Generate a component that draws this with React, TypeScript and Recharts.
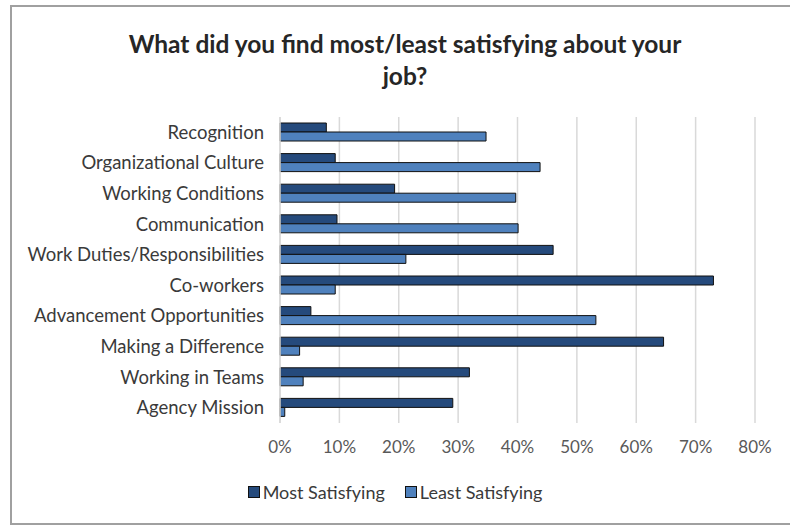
import { BarChart, Bar, XAxis, YAxis, CartesianGrid, Legend } from 'recharts'

const categories = [
  'Recognition',
  'Organizational Culture',
  'Working Conditions',
  'Communication',
  'Work Duties/Responsibilities',
  'Co-workers',
  'Advancement Opportunities',
  'Making a Difference',
  'Working in Teams',
  'Agency Mission',
]
const mostSatisfying = [0.078, 0.093, 0.193, 0.096, 0.46, 0.73, 0.052, 0.646, 0.319, 0.291]
const leastSatisfying = [0.347, 0.438, 0.397, 0.401, 0.212, 0.093, 0.532, 0.033, 0.039, 0.008]
const xTicks = [0, 0.1, 0.2, 0.3, 0.4, 0.5, 0.6, 0.7, 0.8]

const data = categories.map((name, i) => ({
  name,
  most: mostSatisfying[i],
  least: leastSatisfying[i],
}))

const font = 'Lato, sans-serif'
const textColor = '#3a3a3a'

const legendItems = [
  { label: 'Most Satisfying', color: '#254a7c' },
  { label: 'Least Satisfying', color: '#4f81bd' },
]

const CustomLegend = () => (
  <div style={{ display: 'flex', justifyContent: 'center', gap: 20, fontFamily: font, fontSize: 18, color: textColor }}>
    {legendItems.map(item => (
      <span key={item.label} style={{ display: 'flex', alignItems: 'center', gap: 3 }}>
        <span style={{ display: 'inline-block', width: 10, height: 10, background: item.color, border: '1px solid #111' }} />
        {item.label}
      </span>
    ))}
  </div>
)

export default function App() {
  return (
    <div style={{ position: 'absolute', left: 0, top: 0, width: 790, height: 527, background: '#fff', overflow: 'hidden' }}>
      <div
        style={{
          position: 'absolute',
          left: 10,
          top: 5,
          width: 790,
          height: 520,
          border: '2px solid #a0a0a0',
          boxSizing: 'border-box',
        }}
      />
      <div
        style={{
          position: 'absolute',
          left: 0,
          top: 28,
          width: 810,
          textAlign: 'center',
          fontFamily: font,
          fontWeight: 700,
          fontSize: 24.5,
          lineHeight: '32px',
          color: '#262626',
        }}
      >
        What did you find most/least satisfying about your
        <br />
        job?
      </div>
      <div style={{ position: 'absolute', left: 0, top: 0 }}>
        <BarChart
          width={790}
          height={527}
          data={data}
          layout="vertical"
          margin={{ top: 117, right: 35, left: 0, bottom: 52 }}
          barGap={0}
          barCategoryGap={6}
        >
          <CartesianGrid horizontal={false} stroke="#d9d9d9" strokeWidth={1.5} />
          <XAxis
            type="number"
            domain={[0, 0.8]}
            ticks={xTicks}
            height={30}
            tickFormatter={(v: number) => `${Math.round(v * 100)}%`}
            axisLine={false}
            tickLine={false}
            tickMargin={12}
            tick={{ fontFamily: font, fontSize: 17, fill: '#595959' }}
            interval={0}
          />
          <YAxis
            type="category"
            dataKey="name"
            width={280}
            axisLine={{ stroke: '#d9d9d9', strokeWidth: 1.5 }}
            tickLine={false}
            tickMargin={10}
            interval={0}
            tick={{ fontFamily: font, fontSize: 18.5, fill: textColor }}
          />
          <Legend content={<CustomLegend />} wrapperStyle={{ top: 481, left: 0, width: 790 }} />
          <Bar dataKey="most" name="Most Satisfying" fill="#254a7c" stroke="#111" strokeWidth={1} barSize={9} isAnimationActive={false} />
          <Bar dataKey="least" name="Least Satisfying" fill="#4f81bd" stroke="#111" strokeWidth={1} barSize={9} isAnimationActive={false} />
        </BarChart>
      </div>
    </div>
  )
}
